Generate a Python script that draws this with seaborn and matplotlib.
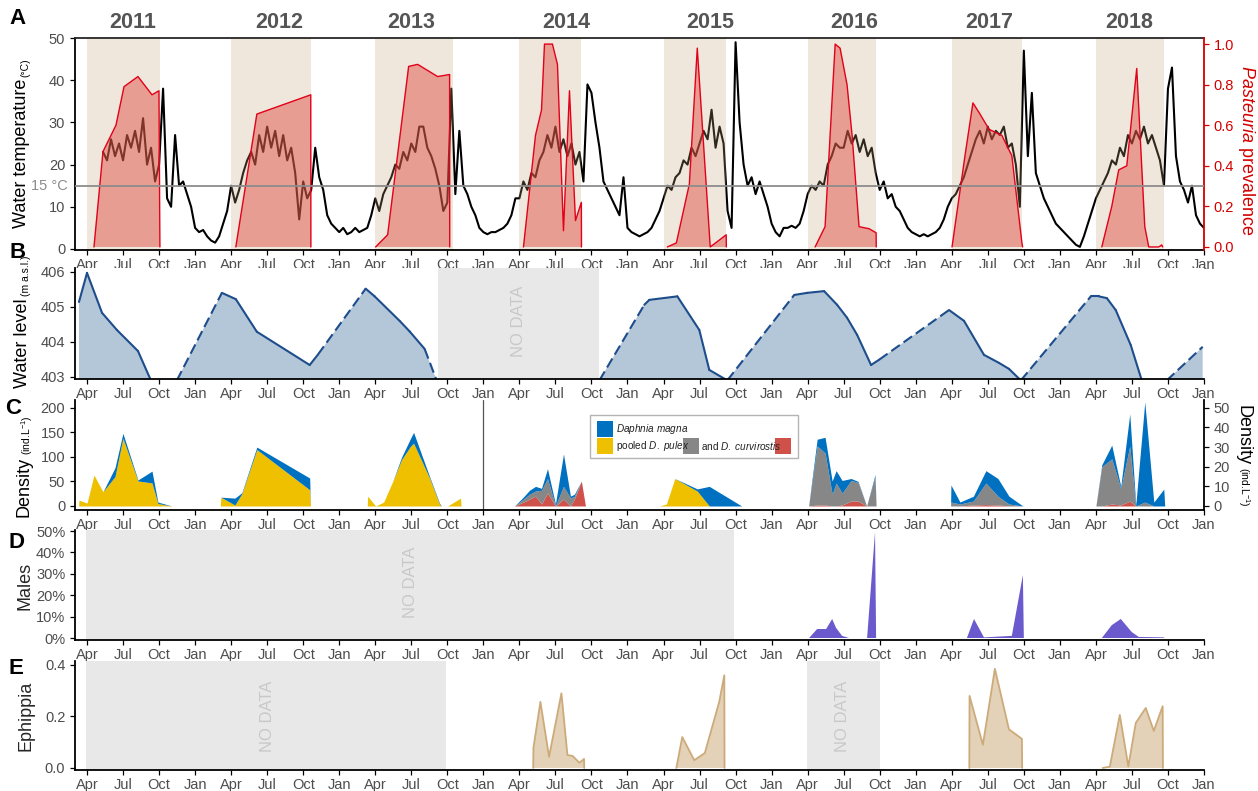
import numpy as np
import matplotlib
matplotlib.use("Agg")
import matplotlib.pyplot as plt
import matplotlib.transforms as mtransforms
from matplotlib.patches import Rectangle
import seaborn as sns

nan = np.nan
W, H = 1258, 791

# ---------------- DATA (x unit: months since Jan 2011; 3 = Apr 2011) ----------------
year_labels = ["2011", "2012", "2013", "2014", "2015", "2016", "2017", "2018"]
season_start = [3, 15, 27, 39, 51, 63, 75, 87]
season_end = [9.07, 21.63, 33.44, 44.16, 56.22, 68.70, 80.84, 92.65]

# Water temperature: three readings per month (1st, 11th, 21st), first month = May 2011
temp_first_month = 4
temp_readings = [
    [nan, 23, 21], [26, 22, 25], [21, 27, 24], [28, 23, 31], [20, 24, 16], [20, 38, 12],
    [10, 27, 15], [16, 13, 10],
    [5, 4, 4.5], [3, 2, 1.5], [3, 6, 9], [15, 11, 14], [18, 21, 23], [20, 27, 23],
    [29, 24, 28], [22, 27, 21], [24, 18, 7], [16, 12, 14], [24, 17, 14], [8, 6, 5],
    [4, 5, 3.5], [4, 5, 4], [4.5, 5, 8], [12, 9, 13], [15, 17, 20], [19, 23, 21],
    [25, 23, 29], [29, 24, 22], [19, 15, 9], [11, 38, 13], [28, 15, 13], [10, 8, 5],
    [4, 3.5, 4], [4, 4.5, 5], [6, 8, 12], [12, 16, 14], [18, 17, 21], [23, 27, 24],
    [29, 23, 26], [22, 25, 20], [23, 16, 39], [37, 30, 24], [16, 14, 12], [10, 8, 17],
    [5, 4, 3.5], [3, 3.5, 4], [5, 7, 9], [12, 15, 14], [17, 18, 21], [20, 24, 22],
    [25, 28, 26], [33, 24, 29], [25, 9, 5], [49, 30, 20], [15, 17, 13], [16, 13, 10],
    [6, 4, 3], [5, 5, 5.5], [5, 6, 9], [13, 15, 14], [16, 15, 20], [22, 25, 24],
    [24, 28, 25], [27, 23, 26], [22, 24, 18], [14, 16, 12], [13, 10, 9], [7, 5, 4],
    [3.5, 3, 3.5], [3, 3.5, 4], [5, 7, 10], [12, 13, 15], [17, 20, 23], [26, 28, 25],
    [29, 26, 28], [27, 29, 24], [25, 20, 10], [47, 22, 37], [18, 15, 12], [10, 8, 6],
    [5, 4, 3], [2, 1, 0.5], [3, 6, 9], [12, 14, 16], [18, 21, 20], [24, 22, 27],
    [25, 28, 26], [29, 25, 27], [24, 21, 15], [38, 43, 22], [16, 14, 11], [15, 8, 6],
    [5],
]

# Pasteuria prevalence (NaN separates seasons)
past_month = [3.58, 4.33, 5.41, 6.08, 7.24, 8.41, 8.99, 9.07, 12,
              15.39, 17.14, 21.63, 21.64, 24,
              27.03, 28.03, 29.78, 30.53, 32.19, 33.19, 33.2, 36,
              39.34, 40.34, 40.84, 41.09, 41.75, 42.17, 42.67, 43.17, 43.67, 44.16, 44.17, 48,
              51.32, 52.07, 53.15, 53.81, 54.89, 56.22, 56.23, 60,
              63.62, 64.45, 65.29, 65.7, 66.28, 66.7, 67.28, 68.11, 68.7, 68.71, 72,
              75.02, 76.1, 76.76, 77.3, 78.1, 79.17, 80.0, 80.84, 80.9, 84,
              87.49, 88.32, 88.9, 89.57, 90.4, 91.07, 91.4, 92.23, 92.48, 92.56]
past_prev = [0, 0.47, 0.60, 0.79, 0.84, 0.75, 0.77, 0, nan,
             0, 0.655, 0.75, 0, nan,
             0, 0.06, 0.89, 0.90, 0.84, 0.85, 0, nan,
             0, 0.55, 0.675, 1.0, 1.0, 0.90, 0.08, 0.77, 0.13, 0.22, 0, nan,
             0, 0.02, 0.31, 0.98, 0, 0.06, 0, nan,
             0, 0.10, 1.0, 0.98, 0.80, 0.55, 0.10, 0.09, 0.07, 0, nan,
             0, 0.45, 0.71, 0.66, 0.58, 0.55, 0.45, 0.02, 0, nan,
             0, 0.20, 0.38, 0.40, 0.88, 0.10, 0, 0, 0.01, 0]

# Water level (m a.s.l.); wl_dashed flags the segment starting at each point (interpolated)
wl_month = [2.33, 3.0, 4.25, 5.49, 7.24, 8.32, 10.48, 14.23, 15.39, 17.14, 21.54, 22.21,
            26.2, 26.95, 29.03, 29.86, 31.11, 32.11, 38.0, 45.66, 49.4, 49.82, 52.15,
            53.98, 54.81, 56.31, 61.88, 62.96, 64.37, 65.45, 66.28, 67.12, 68.28, 68.95,
            74.77, 76.02, 77.68, 78.93, 79.76, 80.75, 86.58, 87.24, 87.91, 88.65, 89.9,
            90.82, 92.9, 95.89]
wl_level = [405.14, 405.97, 404.83, 404.34, 403.74, 402.9, 402.9, 405.4, 405.22, 404.29,
            403.34, 403.63, 405.52, 405.3, 404.6, 404.3, 403.8, 402.9, nan, 402.9, 405.06,
            405.2, 405.3, 404.34, 403.2, 402.9, 405.34, 405.4, 405.45, 405.06, 404.69,
            404.2, 403.34, 403.49, 404.91, 404.6, 403.63, 403.4, 403.23, 402.9, 405.3,
            405.3, 405.25, 404.91, 403.91, 402.9, 402.9, 403.86]
wl_dashed = [0, 0, 0, 0, 0, 0, 1, 0, 0, 0, 0, 1, 0, 0, 0, 0, 1, 0, 0, 1, 0, 0, 0, 0, 0,
             1, 0, 0, 0, 0, 0, 0, 0, 1, 0, 0, 0, 0, 0, 1, 0, 0, 0, 0, 0, 0, 1]

# Density 2011-2013 (left axis, ind/L)
dens_l_month = [2.3, 2.33, 3.0, 3.58, 4.33, 5.33, 5.99, 7.24, 8.41, 8.9, 10.07, 14.1, 14.14,
                15.31, 15.89, 17.14, 21.54, 21.6, 26.33, 26.37, 27.03, 27.7, 28.45, 29.2,
                29.94, 30.19, 31.52, 32.36, 32.52, 33.02, 34.1, 34.14]
dens_l_pooled = [0, 12, 6, 63, 29, 60, 138, 51, 47, 5, 0, 0, 18, 2, 25, 115, 33, 0, 0, 20,
                 0, 8, 50, 95, 122, 128, 57, 3, 0, 0, 16, 0]
dens_l_magna = [0, 0, 0, 0, 0, 18, 10, 2, 24, 3, 0, 0, 0, 14, 2, 5, 24, 0, 0, 0, 0, 0, 0,
                5, 16, 22, 3, 2, 0, 0, 0, 0]

# Density 2014-2018 (right axis, ind/L)
dens_r_month = [38.59, 39.34, 39.84, 40.34, 40.84, 41.34, 42.0, 42.67, 43.25, 43.58, 44.16, 44.5,
                50.65, 51.24, 51.94, 53.81, 54.81, 57.51,
                63.08, 63.79, 64.45, 65.04, 65.37, 65.87, 66.62, 67.2, 67.91, 68.61, 68.7,
                74.9, 74.93, 75.68, 76.8, 77.84, 78.84, 79.76, 80.92,
                87.0, 87.49, 88.32, 89.07, 89.82, 90.32, 91.07, 91.82, 92.65, 92.73]
dens_r_curv = [0, 2, 3.5, 5, 1, 6.6, 0, 3.5, 0, 3.5, 12.7, 0,
               0, 0, 0, 0, 0, 0,
               0, 0.5, 0.5, 0, 0, 0.5, 2.5, 2.5, 0, 0, 0,
               0, 0, 0, 0.5, 0.7, 0.5, 0, 0,
               0, 0, 1, 0.5, 2.5, 0, 0, 0, 0, 0]
dens_r_pulex = [0, 1.5, 2.5, 2.6, 7, 7.4, 0, 6.5, 4, 1.5, 0, 0,
                0, 0, 0, 0, 0, 0,
                0, 30.1, 26.5, 6, 11.7, 6.1, 10.5, 9.5, 0, 15, 0,
                0, 2, 1, 2, 11, 4.5, 1, 0,
                0, 20, 23, 8.5, 28, 0, 2, 0, 0, 0]
dens_r_pooled = [0] * 12 + [0, 1, 14, 7.6, 0, 0] + [0] * 11 + [0] * 8 + [0] * 10
dens_r_magna = [0, 1.1, 2, 2.4, 1, 5, 1, 16.5, 1, 1, 0, 0,
                0, 0, 0, 1.1, 10, 0,
                0, 3.4, 8, 6.7, 6.3, 6.4, 1, 0.5, 0, 1, 0,
                0, 8.7, 1, 2.5, 6.3, 9, 4, 0,
                0, 1, 7, 1, 16.4, 0.5, 51, 2, 8.6, 0]

# Males (%)
males_month = [63.12, 63.79, 64.54, 65.04, 65.37, 65.87, 66.45, 67.95, 68.61, 68.7, 72,
               76.26, 76.85, 77.68, 80.0, 80.92, 81.0, 84,
               87.49, 88.32, 89.07, 89.98, 90.57, 92.65, 92.73]
males_pct = [0, 4.2, 4.2, 8.9, 4.7, 1, 0, 0, 49.5, 0, nan,
             0, 8.9, 0.3, 1, 29.4, 0, nan,
             0, 6, 8.9, 2.8, 0.5, 0.3, 0]

# Ephippia
eph_month = [40.15, 40.17, 40.75, 41.47, 42.5, 43.0, 43.42, 44.0, 44.38, 44.4, 48,
             52.07, 52.56, 53.56, 54.44, 55.64, 56.06, 56.08, 66,
             76.46, 76.48, 77.59, 78.59, 79.76, 80.84, 80.86, 84,
             87.57, 88.16, 88.99, 89.7, 90.32, 91.15, 91.82, 92.56, 92.58]
eph_val = [0, 0.078, 0.257, 0.043, 0.29, 0.05, 0.047, 0.02, 0.035, 0, nan,
           0, 0.12, 0.03, 0.058, 0.257, 0.36, 0, nan,
           0, 0.28, 0.09, 0.385, 0.15, 0.113, 0, nan,
           0, 0.005, 0.206, 0.006, 0.175, 0.233, 0.144, 0.24, 0]

# No-data windows
nodata_B = [(32.19, 45.66)]
nodata_D = [(2.92, 56.89)]
nodata_E = [(2.92, 32.85), (62.96, 69.03)]

# ---------------- STYLE ----------------
sns.set_theme(style="ticks")
plt.rcParams["font.family"] = ["Liberation Sans", "DejaVu Sans"]
plt.rcParams["mathtext.fontset"] = "custom"
plt.rcParams["mathtext.rm"] = "Liberation Sans"
plt.rcParams["mathtext.it"] = "Liberation Sans:italic"
plt.rcParams["mathtext.bf"] = "Liberation Sans:bold"

TICK_GRAY = "#4d4d4d"
RED = "#D40000"
C_MAGNA, C_POOLED, C_PULEX, C_CURV = "#0070C0", "#EEC000", "#878787", "#D0504A"

fig = plt.figure(figsize=(W / 100, H / 100), dpi=100)
renderer = fig.canvas.get_renderer()


def make_ax(top, bottom):
    return fig.add_axes([75 / W, 1 - bottom / H, (1204 - 75) / W, (bottom - top) / H])


month_names = {0: "Jan", 3: "Apr", 6: "Jul", 9: "Oct"}
xticks = list(range(3, 97, 3))


def style(ax):
    ax.set_xlim(2, 96)
    ax.set_xticks(xticks)
    ax.set_xticklabels([month_names[t % 12] for t in xticks])
    ax.tick_params(axis="both", colors="black", labelcolor=TICK_GRAY, length=3.5,
                   width=0.9, labelsize=10.5)
    ax.tick_params(axis="x", pad=2)
    for s in ["left", "bottom"]:
        ax.spines[s].set_linewidth(1.3)
        ax.spines[s].set_color("black")
    ax.spines["top"].set_visible(False)
    ax.spines["right"].set_visible(False)
    ax.set_facecolor("white")


def stacked_label(main, sub, x_px, yc_px, rot, color="black", main_size=13, sub_size=7.5,
                  gap=2, sub_dx=3):
    t1 = fig.text(x_px / W, 0.5, main, rotation=rot, fontsize=main_size, color=color,
                  ha="center", va="center")
    t2 = fig.text(x_px / W, 0.5, sub, rotation=rot, fontsize=sub_size, color=color,
                  ha="center", va="center")
    h1 = t1.get_window_extent(renderer).height
    h2 = t2.get_window_extent(renderer).height
    top = yc_px - (h1 + gap + h2) / 2
    if rot == 90:
        sub_c, main_c = top + h2 / 2, top + h2 + gap + h1 / 2
    else:
        main_c, sub_c = top + h1 / 2, top + h1 + gap + h2 / 2
    t1.set_position((x_px / W, 1 - main_c / H))
    t2.set_position(((x_px + sub_dx) / W, 1 - sub_c / H))


axA = make_ax(38, 250)
axB = make_ax(268, 379)
axC = make_ax(400, 510)
axD = make_ax(530, 640)
axE = make_ax(661, 770)
for ax in (axA, axB, axC, axD, axE):
    style(ax)

# ---------------- A: temperature + Pasteuria ----------------
tx, tv = [], []
for k, row in enumerate(temp_readings):
    for j, v in enumerate(row):
        if not np.isnan(v):
            tx.append(temp_first_month + k + j / 3)
            tv.append(v)
sns.lineplot(x=tx, y=tv, ax=axA, color="black", linewidth=1.5, estimator=None,
             sort=False, zorder=1)
for s, e in zip(season_start, season_end):
    axA.axvspan(s, e, color="#C3A373", alpha=0.25, lw=0, zorder=2)
axA.set_ylim(-0.24, 50)
axA.set_yticks([0, 10, 20, 30, 40, 50])
axA.spines["top"].set_visible(True)
axA.spines["top"].set_linewidth(1.3)
axA.text(-0.006, 15, "15 °C", transform=mtransforms.blended_transform_factory(axA.transAxes, axA.transData),
         ha="right", va="center", color="#8c8c8c", fontsize=10.5)

axA2 = axA.twinx()
axA2.set_xlim(2, 96)
axA2.fill_between(past_month, past_prev, 0, color="#DE4337", alpha=0.45, lw=0, zorder=3)
axA2.plot(past_month, past_prev, color="#E2001A", lw=1.0, zorder=4)
axA2.plot([2, 96], [15, 15], transform=axA.transData, color="#8c8c8c", lw=1.3, zorder=6)
axA2.set_ylim(-0.015, 1.03)
axA2.set_yticks([0, 0.2, 0.4, 0.6, 0.8, 1.0])
axA2.set_yticklabels(["0.0", "0.2", "0.4", "0.6", "0.8", "1.0"])
axA2.tick_params(axis="y", colors=RED, labelcolor=RED, length=3.5, width=0.9, labelsize=10.5)
for s in ["left", "top", "bottom"]:
    axA2.spines[s].set_visible(False)
axA2.spines["right"].set_color(RED)
axA2.spines["right"].set_linewidth(1.3)
fig.text(1246 / W, 1 - 150 / H, r"$\it{Pasteuria}$ prevalence", color=RED, fontsize=13,
         rotation=270, ha="center", va="center")

for lab, xm in zip(year_labels, [6.83, 18.97, 30.03, 42.9, 54.9, 66.9, 78.1, 89.75]):
    axA.text(xm, 1.075, lab, transform=mtransforms.blended_transform_factory(axA.transData, axA.transAxes),
             ha="center", va="center", fontsize=15.5, fontweight="bold", color="#555555")

# ---------------- B: water level ----------------
for s, e in nodata_B:
    axB.axvspan(s, e, color="#E8E8E8", lw=0, zorder=0)
    axB.text((s + e) / 2, 404.6, "NO DATA", rotation=90, ha="center", va="center",
             color="#C8C8C8", fontsize=12)
wl_m = np.array(wl_month)
wl_l = np.array(wl_level)
axB.fill_between(wl_m, wl_l, 402.9, color="#B4C7D9", lw=0, zorder=1)
for i in range(len(wl_m) - 1):
    if np.isnan(wl_l[i]) or np.isnan(wl_l[i + 1]):
        continue
    axB.plot(wl_m[i:i + 2], wl_l[i:i + 2], color="#1E4D8C", lw=1.5,
             ls=(0, (5, 2.2)) if wl_dashed[i] else "-", zorder=2, solid_capstyle="round")
axB.set_ylim(402.94, 406.11)
axB.set_yticks([403, 404, 405, 406])

# ---------------- C: density ----------------
axC.stackplot(dens_l_month, dens_l_pooled, dens_l_magna, colors=[C_POOLED, C_MAGNA], lw=0)
axC.axvline(36, color="#555555", lw=0.9)
axC.set_ylim(-8.2, 216)
axC.set_yticks([0, 50, 100, 150, 200])

axC2 = axC.twinx()
axC2.set_xlim(2, 96)
axC2.stackplot(dens_r_month, dens_r_curv, dens_r_pulex, dens_r_pooled, dens_r_magna,
               colors=[C_CURV, C_PULEX, C_POOLED, C_MAGNA], lw=0)
axC2.set_ylim(-2.05, 54)
axC2.set_yticks([0, 10, 20, 30, 40, 50])
axC2.tick_params(axis="y", colors="black", labelcolor=TICK_GRAY, length=3.5, width=0.9,
                 labelsize=10.5)
for s in ["left", "top", "bottom"]:
    axC2.spines[s].set_visible(False)
axC2.spines["right"].set_linewidth(1.3)
axC2.spines["right"].set_color("black")

# ---------------- D: males ----------------
for s, e in nodata_D:
    axD.axvspan(s, e, color="#E8E8E8", lw=0, zorder=0)
    axD.text(29.9, 26, "NO DATA", rotation=90, ha="center", va="center",
             color="#C8C8C8", fontsize=12)
axD.fill_between(males_month, males_pct, 0, color="#6A5ACD", lw=0, zorder=2)
axD.set_ylim(-0.93, 50.47)
axD.set_yticks([0, 10, 20, 30, 40, 50])
axD.set_yticklabels(["0%", "10%", "20%", "30%", "40%", "50%"])

# ---------------- E: ephippia ----------------
for (s, e), xm in zip(nodata_E, [18.0, 65.9]):
    axE.axvspan(s, e, color="#E8E8E8", lw=0, zorder=0)
    axE.text(xm, 0.2, "NO DATA", rotation=90, ha="center", va="center",
             color="#C8C8C8", fontsize=12)
axE.fill_between(eph_month, eph_val, 0, color="#E3D2B8", lw=0, zorder=2)
axE.plot(eph_month, eph_val, color="#CDAA7A", lw=1.3, zorder=3)
axE.set_ylim(-0.008, 0.4155)
axE.set_yticks([0, 0.2, 0.4])
axE.set_yticklabels(["0.0", "0.2", "0.4"])

for ax in (axA, axB, axC, axD, axE, axC2, axA2):
    ax.set_ylabel("")

# ---------------- axis titles ----------------
stacked_label("Water temperature", "(°C)", 22, 143, 90)
stacked_label("Water level", "(m a.s.l.)", 23, 322, 90)
stacked_label("Density", r"(ind.L$^{-1}$)", 24, 466, 90)
stacked_label("Density", r"(ind.L$^{-1}$)", 1243, 456, 270, sub_dx=1)
fig.text(25 / W, 1 - 586 / H, "Males", rotation=90, fontsize=13, ha="center", va="center")
fig.text(26 / W, 1 - 716 / H, "Ephippia", rotation=90, fontsize=13, ha="center", va="center")

# ---------------- panel letters ----------------
for letter, (x, y) in zip("ABCDE", [(18, 18), (18, 252), (13, 408), (16, 543), (16, 668)]):
    fig.text(x / W, 1 - y / H, letter, fontsize=16, fontweight="bold", ha="center",
             va="center", color="black")


# ---------------- legend (panel C) ----------------
def frect(x0, y0, x1, y1, **kw):
    fig.add_artist(Rectangle((x0 / W, 1 - y1 / H), (x1 - x0) / W, (y1 - y0) / H,
                             transform=fig.transFigure, **kw))


frect(590, 415, 798, 458, facecolor="white", edgecolor="#B4B4B4", lw=1.0, zorder=10)
frect(597, 421, 613, 437, facecolor=C_MAGNA, edgecolor="none", zorder=11)
frect(597, 438, 613, 454, facecolor=C_POOLED, edgecolor="none", zorder=11)
frect(683, 438, 699, 454, facecolor=C_PULEX, edgecolor="none", zorder=11)
frect(775, 438, 791, 454, facecolor=C_CURV, edgecolor="none", zorder=11)
fig.text(616 / W, 1 - 429 / H, r"$\it{Daphnia\ magna}$", fontsize=7.2, va="center",
         color="#222222", zorder=12)
fig.text(616 / W, 1 - 446 / H, r"pooled $\it{D.\ pulex}$", fontsize=7.2, va="center",
         color="#222222", zorder=12)
fig.text(701 / W, 1 - 446 / H, r"and $\it{D.\ curvirostis}$", fontsize=7.2, va="center",
         color="#222222", zorder=12)

fig.savefig("out.png", dpi=100)
